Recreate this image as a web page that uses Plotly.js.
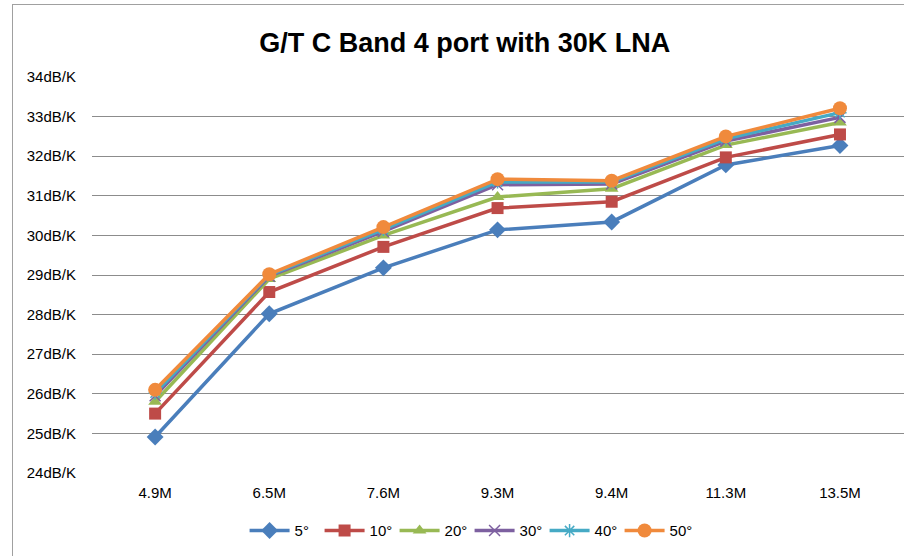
<!DOCTYPE html>
<html>
<head>
<meta charset="utf-8">
<script src="https://cdn.plot.ly/plotly-3.0.1.min.js"></script>
<style>
  html, body { margin: 0; padding: 0; background: #fff; }
  #wrap { position: relative; width: 904px; height: 556px; }
  #chart { width: 904px; height: 556px; }
  #frame { position: absolute; left: 12px; top: 4px; width: 900px; height: 560px;
           border-left: 1.5px solid #a0a0a0; border-top: 1.5px solid #a0a0a0; pointer-events: none; }
</style>
</head>
<body>
<div id="wrap">
  <div id="chart"></div>
  <div id="frame"></div>
</div>
<script>
const categories = ["4.9M", "6.5M", "7.6M", "9.3M", "9.4M", "11.3M", "13.5M"];
const seriesNames = ["5°", "10°", "20°", "30°", "40°", "50°"];
const s5  = [24.91, 28.02, 29.18, 30.14, 30.34, 31.78, 32.27];
const s10 = [25.50, 28.57, 29.71, 30.69, 30.85, 31.97, 32.55];
const s20 = [25.80, 28.90, 30.00, 30.97, 31.18, 32.28, 32.85];
const s30 = [25.95, 28.97, 30.10, 31.28, 31.30, 32.38, 32.98];
const s40 = [26.02, 29.00, 30.15, 31.35, 31.35, 32.44, 33.10];
const s50 = [26.10, 29.02, 30.21, 31.42, 31.38, 32.50, 33.21];
const yTicks = [24, 25, 26, 27, 28, 29, 30, 31, 32, 33, 34];
const yTickText = yTicks.map(v => v + "dB/K");

const allSeries = [s5, s10, s20, s30, s40, s50];
const colors = ["#4A7EBB", "#BE4B48", "#98B954", "#7D60A0", "#46AAC5", "#F08A3C"];
const symbols = ["diamond", "square", "triangle-up", "x-thin-open", "asterisk-open", "circle"];
const sizes = [13, 12, 12, 11, 11, 14];

const traces = allSeries.map((vals, i) => ({
  type: "scatter",
  mode: "lines+markers",
  name: seriesNames[i],
  x: categories,
  y: vals,
  line: { color: colors[i], width: 3.5 },
  marker: { symbol: symbols[i], size: sizes[i], color: colors[i],
            line: { color: colors[i], width: (i === 3 || i === 4) ? 1.5 : 0 } }
}));

const layout = {
  width: 904, height: 556,
  margin: { l: 92, r: 0, t: 77, b: 83, autoexpand: false },
  paper_bgcolor: "#fff", plot_bgcolor: "#fff",
  font: { family: "Liberation Sans, Arial, sans-serif", size: 15, color: "#000" },
  title: { text: "<b>G/T C Band 4 port with 30K LNA</b>", font: { size: 27, family: "Liberation Sans, Arial, sans-serif", color: "#000" },
           xref: "container", x: 0.514, xanchor: "center", y: 0.923, yref: "container", yanchor: "middle" },
  xaxis: { type: "category", range: [-0.553, 6.561], showgrid: false, zeroline: false,
           showline: false, ticks: "", ticklabelstandoff: 9, tickfont: { size: 15 } },
  yaxis: { range: [24, 34], tickvals: yTicks, ticktext: yTickText, showgrid: true,
           gridcolor: "#8c8c8c", gridwidth: 1, zeroline: false, showline: false,
           ticks: "", ticklabelstandoff: 15, tickfont: { size: 15 } },
  showlegend: true,
  legend: { orientation: "h", xref: "paper", x: 0.465, xanchor: "center", y: -0.146, yanchor: "middle",
            font: { size: 15 }, itemwidth: 40, entrywidth: 20 },
};

Plotly.newPlot("chart", traces, layout, { displayModeBar: false, staticPlot: true });
</script>
</body>
</html>
